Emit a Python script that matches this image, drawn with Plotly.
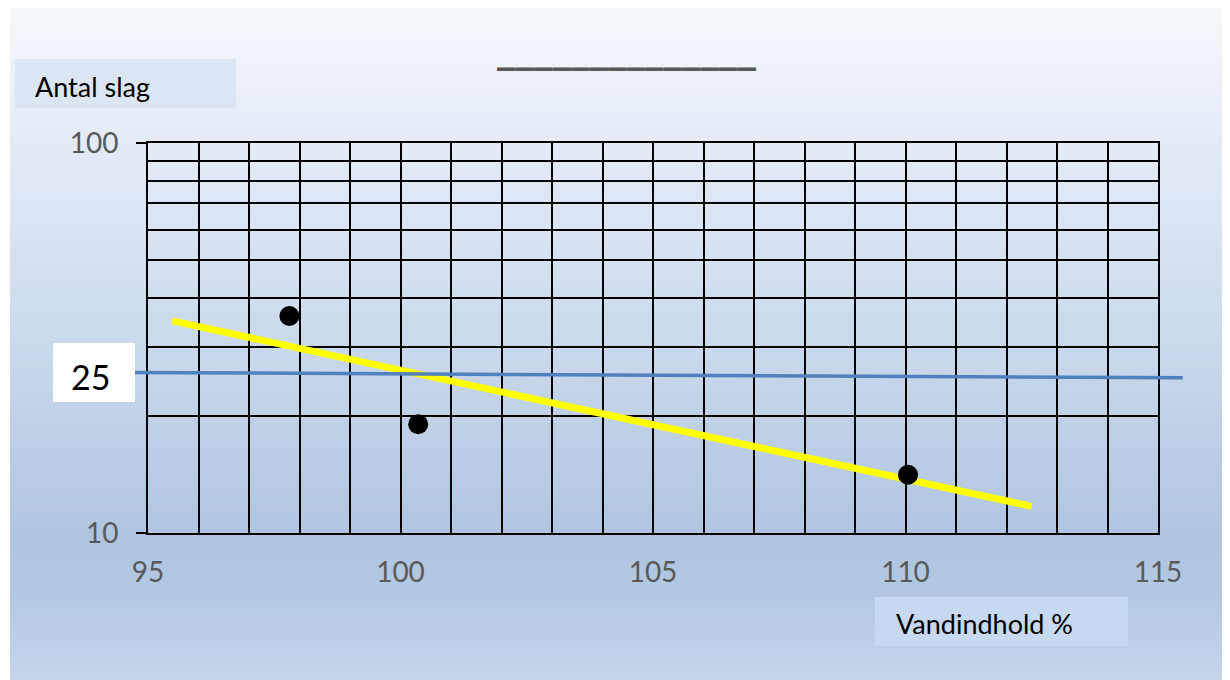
import plotly.graph_objects as go

W, H = 1230, 680
OFF = 8  # page body margin of the browser

# ---- data ----
pts_x = [97.8, 100.35, 110.05]          # measured points (Vandindhold %)
pts_y = [36.0, 19.0, 14.1]              # Antal slag
trend_x = [95.48, 112.5]                # fitted (yellow) line
trend_y = [35.0, 11.7]
ref_x = [94.57, 115.49]                 # blue 25-line
ref_y = [25.8, 25.0]
x_tickvals = [95, 100, 105, 110, 115]
x_ticktext = ["95", "100", "105", "110", "115"]
x_gridvals = [95, 96, 97, 98, 99, 100, 101, 102, 103, 104, 105,
              106, 107, 108, 109, 110, 111, 112, 113, 114, 115]
y_tickvals = [10, 100]
y_ticktext = ["10", "100"]
y_gridvals = [20, 30, 40, 50, 60, 70, 80, 90]

# ---- layout geometry (screen pixels) ----
PL, PR, PT, PB = 148, 1158, 143, 533
XPX = (PR - PL) / 20.0
X2L, X2R = 126, 1183

def px(x):
    return (x - OFF) / W

def py(y):
    return 1 - (y - OFF) / H

FONT = "Lato, 'Open Sans', sans-serif"

fig = go.Figure()

fig.add_trace(go.Scatter(
    x=ref_x, y=ref_y, xaxis="x2", yaxis="y2", mode="lines",
    line=dict(color="#4F81BD", width=3.5), hoverinfo="skip", showlegend=False))

fig.add_trace(go.Scatter(
    x=trend_x, y=trend_y, mode="lines",
    line=dict(color="#FFFF00", width=7), showlegend=False))

fig.add_trace(go.Scatter(
    x=pts_x, y=pts_y, mode="markers",
    marker=dict(color="#000000", size=20), showlegend=False))

# ---- gradient background ----
stops = [(7, (245, 248, 252)), (150, (227, 234, 245)), (300, (208, 221, 238)),
         (420, (192, 209, 231)), (540, (175, 197, 224)), (600, (179, 200, 226)),
         (690, (199, 215, 236))]

def col_at(y):
    for (y0, c0), (y1, c1) in zip(stops[:-1], stops[1:]):
        if y0 <= y <= y1:
            t = (y - y0) / (y1 - y0)
            return "rgb(%d,%d,%d)" % tuple(round(a + (b - a) * t) for a, b in zip(c0, c1))
    return "rgb(%d,%d,%d)" % stops[-1][1]

shapes = []
band = 6
y = 7
while y < H + OFF:
    y2 = min(y + band, H + OFF)
    c = col_at((y + y2) / 2)
    shapes.append(dict(type="rect", xref="paper", yref="paper", layer="below",
                       x0=px(10), x1=1, y0=max(py(y2) - 0.001, 0), y1=min(py(y), 1),
                       fillcolor=c, line=dict(width=0)))
    y = y2

# label boxes
shapes.append(dict(type="rect", xref="paper", yref="paper", layer="below",
                   x0=px(15), x1=px(236), y0=py(108), y1=py(59),
                   fillcolor="#DCE6F2", line=dict(width=0)))
shapes.append(dict(type="rect", xref="paper", yref="paper", layer="above",
                   x0=px(53), x1=px(135), y0=py(402), y1=py(343),
                   fillcolor="#FFFFFF", line=dict(width=0)))
shapes.append(dict(type="rect", xref="paper", yref="paper", layer="below",
                   x0=px(875), x1=px(1128), y0=py(646), y1=py(597),
                   fillcolor="#C6D9F1", line=dict(width=0)))

annotations = [
    dict(text="Antal slag", xref="paper", yref="paper", x=px(33), y=py(86),
         xanchor="left", yanchor="middle", showarrow=False,
         font=dict(family=FONT, size=27, color="#000000")),
    dict(text="25", xref="paper", yref="paper", x=px(90), y=py(376),
         xanchor="center", yanchor="middle", showarrow=False,
         font=dict(family=FONT, size=34, color="#000000")),
    dict(text="Vandindhold %", xref="paper", yref="paper", x=px(894), y=py(623),
         xanchor="left", yanchor="middle", showarrow=False,
         font=dict(family=FONT, size=27, color="#000000")),
    dict(text="<b>______________</b>", xref="paper", yref="paper", x=px(627), y=py(49),
         xanchor="center", yanchor="middle", showarrow=False,
         font=dict(family="DejaVu Sans, sans-serif", size=37, color="#595959")),
]

fig.update_layout(
    template="none",
    width=W, height=H,
    margin=dict(l=0, r=0, t=0, b=0, pad=0, autoexpand=False),
    paper_bgcolor="#FFFFFF",
    plot_bgcolor="rgba(0,0,0,0)",
    shapes=shapes,
    annotations=annotations,
    showlegend=False,
    xaxis=dict(
        domain=[px(PL), px(PR)], range=[95, 115], anchor="y", automargin=False,
        tickvals=x_tickvals, ticktext=x_ticktext, ticks="",
        showgrid=True, gridcolor="#000000", gridwidth=2,
        minor=dict(tickvals=x_gridvals, showgrid=True, gridcolor="#000000",
                   gridwidth=2, ticks="", ticklen=0),
        showline=True, linecolor="#000000", linewidth=2, mirror=True,
        zeroline=False,
        tickfont=dict(family=FONT, size=28, color="#595959"),
        ticklabelstandoff=13,
    ),
    xaxis2=dict(
        domain=[px(X2L), px(X2R)],
        range=[95 - (PL - X2L) / XPX, 115 + (X2R - PR) / XPX],
        anchor="y2", visible=False, showgrid=False, zeroline=False, automargin=False,
    ),
    yaxis=dict(
        domain=[py(PB), py(PT)], type="log", range=[1, 2], anchor="x", automargin=False,
        tickvals=y_tickvals, ticktext=y_ticktext,
        ticks="outside", ticklen=10, tickwidth=2, tickcolor="#000000",
        showgrid=True, gridcolor="#000000", gridwidth=2,
        minor=dict(tickvals=y_gridvals, showgrid=True, gridcolor="#000000",
                   gridwidth=2, ticks="", ticklen=0),
        showline=True, linecolor="#000000", linewidth=2, mirror=True,
        zeroline=False,
        tickfont=dict(family=FONT, size=28, color="#595959"),
        ticklabelstandoff=12,
    ),
    yaxis2=dict(
        domain=[py(PB), py(PT)], type="log", range=[1, 2], anchor="x2",
        visible=False, showgrid=False, zeroline=False, automargin=False,
    ),
)

fig.write_html("out.html")
